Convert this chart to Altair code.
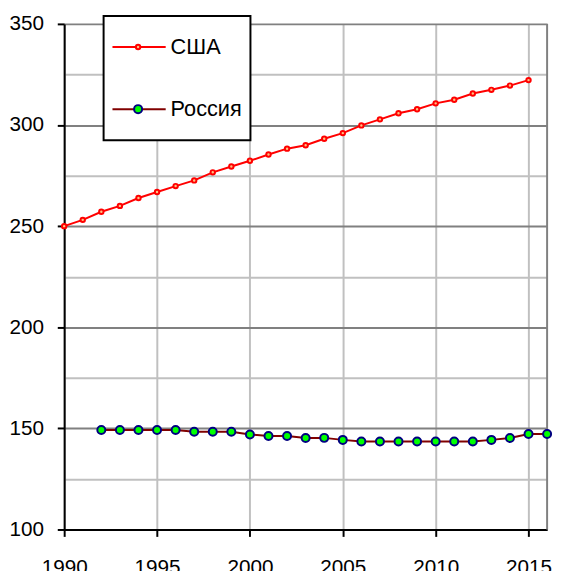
import altair as alt
import pandas as pd

# ---- data ----
usa_years = list(range(1990, 2016))
usa_values = [250.0, 253.1, 257.1, 260.0, 263.9, 266.9, 269.8, 272.6, 276.6, 279.5,
              282.3, 285.4, 288.3, 290.0, 293.2, 296.0, 299.8, 302.8, 305.8, 307.8,
              310.7, 312.5, 315.6, 317.4, 319.5, 322.2]
rus_years = list(range(1992, 2017))
rus_values = [149.2, 149.2, 149.2, 149.2, 149.2, 148.3, 148.3, 148.3, 147.0, 146.2,
              146.2, 145.2, 145.3, 144.3, 143.5, 143.5, 143.5, 143.5, 143.5, 143.5,
              143.5, 144.3, 145.2, 147.2, 147.2]
series_names = ["США", "Россия"]
x_ticks = [1990, 1995, 2000, 2005, 2010, 2015]
y_grid = [100, 125, 150, 175, 200, 225, 250, 275, 300, 325, 350]
x_domain = [1990, 2016]
y_domain = [100, 350]
right_border = [2016]

FONT = "Liberation Sans"

df = pd.DataFrame({
    "year": usa_years + rus_years,
    "value": usa_values + rus_values,
    "series": [series_names[0]] * len(usa_values) + [series_names[1]] * len(rus_values),
})
df["series2"] = df["series"]
border_df = pd.DataFrame({"year": right_border})

x_enc = alt.X(
    "year:Q",
    scale=alt.Scale(domain=x_domain, nice=False, zero=False),
    axis=alt.Axis(values=x_ticks, format="d", title=None, grid=True,
                  gridColor="#C0C0C0", gridWidth=2, labelFlush=False,
                  labelOverlap=False, labelPadding=21),
)
y_enc = alt.Y(
    "value:Q",
    scale=alt.Scale(domain=y_domain, nice=False, zero=False),
    axis=alt.Axis(values=y_grid, title=None, grid=True,
                  gridColor={"condition": {"test": "datum.value % 50 === 0", "value": "#808080"},
                             "value": "#C0C0C0"},
                  gridWidth=2,
                  tickOpacity={"condition": {"test": "datum.value % 50 === 0", "value": 1},
                               "value": 0},
                  labelExpr="datum.value % 50 === 0 ? datum.label : ''",
                  labelFlush=False, labelOverlap=False, labelPadding=14),
)

border = alt.Chart(border_df).mark_rule(color="#808080", strokeWidth=2).encode(
    x=alt.X("year:Q", scale=alt.Scale(domain=x_domain, nice=False, zero=False))
)

lines = alt.Chart(df).mark_line(strokeWidth=2).encode(
    x=x_enc,
    y=y_enc,
    color=alt.Color(
        "series:N",
        sort=series_names,
        scale=alt.Scale(range=["#FF0000", "#800000"]),
        legend=alt.Legend(
            orient="none", legendX=40, legendY=-8, title=None,
            symbolType="stroke", symbolSize=2916, symbolStrokeWidth=2,
            labelFontSize=22, labelFont=FONT, labelColor="black", labelOffset=4,
            padding=8, rowPadding=16, clipHeight=47,
            strokeColor="black", fillColor="white", zindex=1,
        ),
    ),
)

pt_legend = alt.Legend(
    orient="none", legendX=61.5, legendY=-8, title=None,
    labelExpr="''", labelFontSize=10, padding=8, rowPadding=16, clipHeight=47,
    symbolStrokeWidth=2, symbolType="circle", zindex=2,
)

points = alt.Chart(df).mark_point(shape="circle", opacity=1, strokeWidth=2).encode(
    x=x_enc,
    y=y_enc,
    fill=alt.Fill("series2:N", sort=series_names,
                  scale=alt.Scale(domain=series_names, range=["#FFC080", "#00FF00"]),
                  legend=pt_legend),
    stroke=alt.Stroke("series2:N", sort=series_names,
                      scale=alt.Scale(domain=series_names, range=["#FF0000", "#000080"]),
                      legend=pt_legend),
    size=alt.Size("series2:N", sort=series_names,
                  scale=alt.Scale(domain=series_names, range=[20, 66]),
                  legend=pt_legend),
)

chart = (
    alt.layer(border, lines, points)
    .properties(
        width=490,
        height=513,
        autosize=alt.AutoSizeParams(type="none"),
        padding={"left": 57, "top": 12, "right": 7, "bottom": 38},
    )
    .configure_view(stroke=None)
    .configure_axis(
        domainColor="black", domainWidth=2,
        tickColor="black", tickWidth=2, tickSize=7,
        labelFont=FONT, labelFontSize=21, labelColor="black",
    )
    .configure_legend(strokeWidth=2)
)

chart.save("out.html", embed_options={"renderer": "svg", "actions": False})
